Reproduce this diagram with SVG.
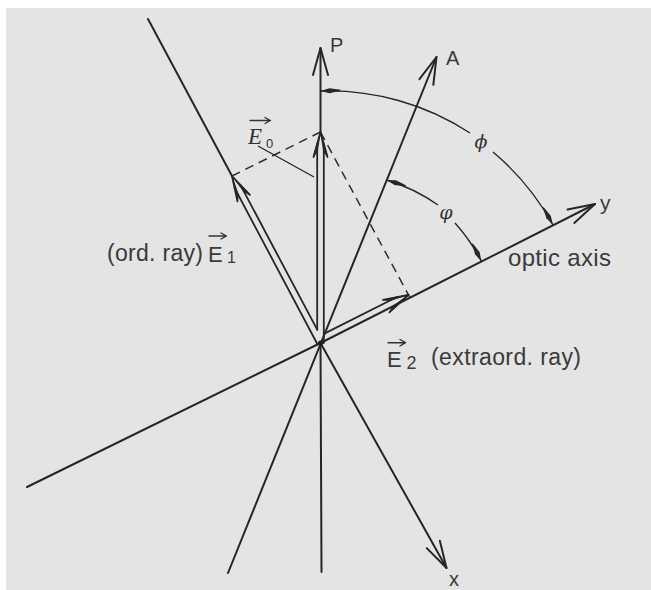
<svg xmlns="http://www.w3.org/2000/svg" width="651" height="590" viewBox="0 0 651 590">
<style>
.ax{fill:none;stroke:#262626;stroke-width:2;stroke-linecap:round}
.sh{fill:none;stroke:#262626;stroke-width:1.8;stroke-linecap:round}
.barb{fill:none;stroke:#262626;stroke-width:1.8;stroke-linejoin:round;stroke-linecap:round}
.wedge{fill:#262626;stroke:#262626;stroke-width:0.8;stroke-linejoin:round}
.dash{fill:none;stroke:#2e2e2e;stroke-width:1.5;stroke-dasharray:9 6}
.arc{fill:none;stroke:#262626;stroke-width:1.4}
.thin{fill:none;stroke:#262626;stroke-width:1.3}
.vec{fill:none;stroke:#333;stroke-width:1.4;stroke-linecap:round;stroke-linejoin:round}
.lbl{font-family:"Liberation Sans",Arial,sans-serif;fill:#3a3a3a}
.it{font-family:"Liberation Serif","Times New Roman",serif;font-style:italic;fill:#333}
.gr{font-family:"DejaVu Serif","Liberation Serif",serif;font-style:italic;fill:#333}
</style>
<defs>
<marker id="open" markerUnits="userSpaceOnUse" viewBox="-30 -10 32 20" markerWidth="32" markerHeight="20" refX="0" refY="0" orient="auto">
<path d="M-27,-7.5 L0,0 L-27,7.5" fill="none" stroke="#262626" stroke-width="2" stroke-linejoin="round" stroke-linecap="round"/>
</marker>
<marker id="wedge" markerUnits="userSpaceOnUse" viewBox="-22 -4 24 8" markerWidth="24" markerHeight="8" refX="0" refY="0" orient="auto-start-reverse">
<path d="M0,0 L-9,-2.5 L-20,-0.5 L-20,0.5 L-9,2.5 Z" fill="#262626"/>
</marker>
</defs>
<rect x="6" y="8" width="645" height="582" fill="#e4e4e4"/>
<g id="connectors">
<g id="axis-P"><path class="ax" d="M321.5,572 L320.5,343"/><path class="ax" d="M320.5,132 L320.5,48" marker-end="url(#open)"/></g>
<g id="axis-x"><path class="ax" d="M148,19 L232,176"/><path class="ax" d="M320.5,343 L446.5,568" marker-end="url(#open)"/></g>
<g id="axis-y"><path class="ax" d="M27,487 L320.5,343 L595,204" marker-end="url(#open)"/></g>
<g id="axis-A"><path class="ax" d="M228,573 L436.5,57" marker-end="url(#open)"/></g>
<g id="dashes"><path class="dash" d="M320.5,132 L232,176"/><path class="dash" d="M320.5,132 L410,297.7"/></g>
<g id="arc-big"><path class="arc" d="M320.5,91 A258,258 0 0 1 470,133 M493,152 A258,258 0 0 1 553,225" marker-start="url(#wedge)" marker-end="url(#wedge)"/></g>
<g id="arc-small"><path class="arc" d="M386.6,180 A179,179 0 0 1 438,205 M455,223 A179,179 0 0 1 481.5,261.5" marker-start="url(#wedge)" marker-end="url(#wedge)"/></g>
<path id="leader-E0" class="thin" d="M258,146 L314,177"/>
</g>
<g id="vector-E0">
<path class="sh" d="M323.8,343 L323.8,144 M317.2,329.7 L317.2,144"/>
<path class="barb" d="M313.5,157 L320.5,132 L327.5,157"/>
<path class="wedge" d="M320.5,132 L313.5,157 L317.2,152 Z M320.5,132 L327.5,157 L323.8,152 Z"/>
</g>
<g id="vector-E1">
<path class="sh" d="M317.2,329.7 L240.4,184.9 M317.6,344.5 L234.6,188"/>
<path class="barb" d="M249.9,194.8 L232,176 L237.5,201.4"/>
<path class="wedge" d="M232,176 L249.9,194.8 L244.3,192.2 Z M232,176 L237.5,201.4 L238.5,195.2 Z"/>
</g>
<g id="vector-E2">
<path class="sh" d="M323.8,333.9 L396.5,297.2"/>
<path class="barb" d="M383,299.9 L408.5,294.8 L389.4,312.3"/>
<path class="wedge" d="M408.5,294.8 L383,299.9 L389.2,300.8 Z M408.5,294.8 L389.4,312.3 L392.2,306.7 Z"/>
</g>
<circle cx="320.5" cy="343" r="2.5" fill="#1e1e1e"/>
<g id="label-P"><text class="lbl" x="330" y="52" font-size="20">P</text></g>
<g id="label-A"><text class="lbl" x="446" y="65" font-size="20">A</text></g>
<g id="label-y"><text class="lbl" x="600" y="210" font-size="21">y</text></g>
<g id="label-x"><text class="lbl" x="449" y="586" font-size="20">x</text></g>
<g id="label-optic"><text class="lbl" x="508" y="265.5" font-size="24" textLength="103" lengthAdjust="spacing">optic axis</text></g>
<g id="label-phi-big"><text class="gr" x="481" y="148" font-size="19" text-anchor="middle">ϕ</text></g>
<g id="label-phi-small"><text class="gr" x="446" y="219" font-size="19" text-anchor="middle">φ</text></g>
<g id="label-E0">
<text class="it" x="248" y="143.5" font-size="23">E</text>
<text x="266" y="147.5" font-size="13" font-family="Liberation Sans,Arial,sans-serif" fill="#333">0</text>
<path class="vec" d="M250,120.5 L270,120.5 M265,117.5 L270.5,120.5 L265,123.5"/>
</g>
<g id="label-E1">
<text class="lbl" x="107" y="261" font-size="23" textLength="96" lengthAdjust="spacing">(ord. ray)</text>
<text class="lbl" x="208" y="261.5" font-size="22">E</text>
<text class="lbl" x="227" y="263" font-size="16">1</text>
<path class="vec" d="M209,236 L226,236 M221,233 L226.5,236 L221,239"/>
</g>
<g id="label-E2">
<text class="lbl" x="387" y="366.5" font-size="22">E</text>
<text class="lbl" x="406.5" y="369" font-size="18">2</text>
<text class="lbl" x="431" y="365" font-size="23" textLength="150" lengthAdjust="spacing">(extraord. ray)</text>
<path class="vec" d="M388,342.7 L405,342.7 M400,339.5 L405.5,342.7 L400,346"/>
</g>
</svg>
